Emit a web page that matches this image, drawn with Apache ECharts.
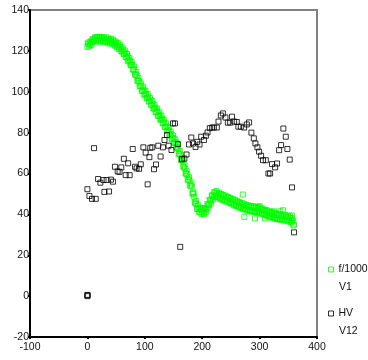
<!DOCTYPE html>
<html>
<head>
<meta charset="utf-8">
<script src="https://cdn.jsdelivr.net/npm/echarts@6/dist/echarts.min.js"></script>
<style>
html,body{margin:0;padding:0;background:#fff;}
#chart{width:368px;height:360px;}
</style>
</head>
<body>
<div id="chart"></div>
<script>
const seriesNames = ['f/1000', 'HV'];
const seriesSubLabels = ['V1', 'V12'];
const xTicks = [-100, 0, 100, 200, 300, 400];
const yTicks = [-20, 0, 20, 40, 60, 80, 100, 120, 140];

const greenPoints = [
[0,122.0],[2,123.4],[4,123.0],[6,124.6],[8,124.0],[10,125.3],[12,124.9],[14,126.2],[16,125.4],[18,126.5],
[20,125.6],[22,126.4],[24,125.2],[26,126.0],[28,124.9],[30,125.9],[32,124.8],[34,125.6],[36,124.5],[38,125.4],
[40,124.3],[42,125.0],[44,123.8],[46,124.5],[48,122.9],[50,123.6],[52,122.1],[54,122.9],[56,121.2],[58,121.9],
[60,120.0],[62,120.6],[64,118.6],[66,119.1],[68,116.9],[70,117.4],[72,115.2],[74,115.4],[76,113.1],[78,113.3],
[80,110.9],[82,111.0],[84,108.3],[86,108.1],[88,105.4],[90,105.2],[92,102.6],[94,102.9],[96,100.5],[98,100.9],
[100,98.7],[102,99.1],[104,97.0],[106,97.5],[108,95.4],[110,95.8],[112,93.6],[114,94.2],[116,91.8],[118,92.3],
[120,90.1],[122,90.5],[124,88.3],[126,88.6],[128,86.5],[130,86.9],[132,84.7],[134,85.1],[136,82.8],[138,83.1],
[140,80.8],[142,81.2],[144,78.8],[146,79.2],[148,77.0],[150,77.4],[152,75.1],[154,75.3],[156,72.7],[158,72.4],
[160,69.6],[162,69.3],[164,66.5],[166,66.2],[168,63.1],[170,62.6],[172,59.9],[174,59.6],[176,57.0],[178,56.5],
[180,54.0],[182,53.6],[184,50.0],[186,48.6],[188,45.4],[190,45.1],[192,42.7],[194,43.2],[196,41.4],[198,42.3],
[200,40.8],[202,41.9],[204,40.9],[206,42.6],[208,42.4],[210,44.6],[212,44.6],[214,46.9],[216,46.8],[218,49.0],
[220,48.6],[222,50.4],[224,49.3],[226,50.5],[228,48.7],[230,49.8],[232,48.0],[234,49.3],[236,47.5],[238,48.8],
[240,47.2],[242,48.3],[244,46.6],[246,47.9],[248,46.1],[250,47.4],[252,45.6],[254,46.8],[256,45.0],[258,46.2],
[260,44.5],[262,45.8],[264,44.0],[266,45.3],[268,43.6],[270,44.8],[272,43.0],[274,44.4],[276,42.7],[278,44.0],
[280,42.3],[282,43.6],[284,42.0],[286,43.5],[288,41.9],[290,43.3],[292,41.7],[294,43.1],[296,41.5],[298,42.9],
[300,41.3],[302,42.6],[304,40.8],[306,42.1],[308,40.4],[310,41.7],[312,39.9],[314,41.2],[316,39.5],[318,40.8],
[320,39.1],[322,40.4],[324,38.7],[326,40.0],[328,38.3],[330,39.7],[332,38.1],[334,39.5],[336,37.9],[338,39.3],
[340,37.8],[342,39.0],[344,37.6],[346,38.8],[348,37.3],[350,38.6],[352,37.0],[354,38.2],[356,36.5],[358,37.1],
[360,35.0],
[1,124.0],[3,122.2],[5,124.4],[7,122.8],[9,125.8],[11,124.9],[13,126.7],[15,124.5],[17,126.8],[19,125.0],
[21,126.9],[23,124.5],[25,126.8],[27,124.9],[29,126.5],[31,124.2],[33,126.6],[35,124.2],[37,126.1],[39,123.6],
[41,125.9],[43,123.5],[45,125.5],[47,122.6],[49,124.6],[51,121.8],[53,123.8],[55,120.9],[57,123.0],[59,119.7],
[61,121.6],[63,118.5],[65,120.2],[67,116.9],[69,118.5],[71,114.9],[73,116.5],[75,113.3],[77,114.6],[79,110.8],
[81,112.4],[83,108.5],[85,109.6],[87,105.4],[89,106.7],[91,102.7],[93,104.1],[95,100.4],[97,102.2],[99,98.5],
[101,100.3],[103,96.8],[105,98.8],[107,95.2],[109,97.0],[111,93.4],[113,95.4],[115,91.8],[117,93.4],[119,89.9],
[121,91.8],[123,88.2],[125,89.9],[127,86.3],[129,88.2],[131,84.6],[133,86.3],[135,82.7],[137,84.5],[139,80.8],
[141,82.4],[143,78.7],[145,80.5],[147,76.9],[149,78.6],[151,75.0],[153,76.7],[155,72.8],[157,73.9],[159,69.7],
[161,71.0],[163,66.7],[165,67.8],[167,63.4],[169,64.4],[171,60.0],[173,61.1],[175,56.9],[177,58.2],[179,54.1],
[181,55.2],[183,50.4],[185,50.7],[187,45.8],[189,46.6],[191,42.6],[193,44.4],[195,41.0],[197,43.2],[199,40.2],
[201,42.8],[203,40.2],[205,43.1],[207,41.2],[209,45.0],[211,43.4],[213,47.1],[215,45.5],[217,49.4],[219,47.6],
[221,50.9],[223,48.5],[225,51.4],[227,48.4],[229,50.6],[231,47.5],[233,50.0],[235,47.1],[237,49.5],[239,46.6],
[241,49.1],[243,46.2],[245,48.5],[247,45.6],[249,48.1],[251,45.2],[253,47.5],[255,44.5],[257,47.0],[259,44.1],
[261,46.5],[263,43.5],[265,46.0],[267,43.1],[269,45.5],[271,42.6],[273,45.2],[275,42.3],[277,44.7],[279,41.8],
[281,44.4],[283,41.6],[285,44.1],[287,41.3],[289,44.0],[291,41.2],[293,43.7],[295,40.9],[297,43.6],[299,40.8],
[301,43.3],[303,40.3],[305,42.8],[307,39.9],[309,42.3],[311,39.4],[313,42.0],[315,39.1],[317,41.5],[319,38.6],
[321,41.2],[323,38.3],[325,40.7],[327,37.8],[329,40.5],[331,37.7],[333,40.2],[335,37.4],[337,40.1],[339,37.3],
[341,39.8],[343,37.0],[345,39.7],[347,36.9],[349,39.3],[351,36.4],[353,39.0],[355,36.0],[357,38.1],[359,34.6],
[270.7,49.7],[273.5,38.8],[292,38.0],[309.5,38.0],[341,42.0],[336,41.5],[300,44.0],[325,41.5],[356,39.5]
];

const hvPoints = [
[0,52.3],[3.5,49],[8,47.6],[14.5,47.6],[11.6,72.4],[18.6,57.3],[22.6,55.5],[28,56.8],[33.6,56.8],[29.6,51],
[37.7,51.2],[41,57],[44.5,56],[48,63.3],[52.7,61],[56,60.8],[59,63],[63.5,67.2],[66.7,59.2],[71,65],
[73.6,59.2],[79,72],[83,63.3],[85.6,62.5],[90,62.3],[93,64.5],[97.5,72.8],[101.5,70.2],[105,54.7],[108,68],
[109.6,72.6],[113,72.8],[116,62.1],[119.5,64.4],[123.5,73.6],[127.5,68.3],[131.6,72.8],[134.3,76.4],[138.6,78.8],[141.5,73.6],
[146.5,71.5],[149,84.5],[152.5,84.5],[157.5,74.4],[161.7,24.1],[164.7,67],[169,67.3],[172.7,69.3],[177,74.2],[181,77.6],
[184,74.7],[188.4,73],[191.3,75.5],[195.3,74.2],[198.3,78],[203,76.4],[206.4,78.5],[209.3,80.1],[213.3,82.2],[217.4,82.5],
[220.3,82.5],[225.5,82.5],[228.4,85.4],[232.5,88.4],[236,89.4],[240.5,87.4],[244.7,84.9],[248.7,84.9],[252,87.8],[255.6,85.4],
[260.3,85.2],[263,82.9],[267.3,82.9],[273,82.5],[277.7,84],[281.7,85],[285.7,80],[289.9,77.2],[292.7,74.7],[296.2,72.8],
[299.1,70.7],[302.6,68.7],[306,66.5],[310.8,66.5],[315.4,60],[318.3,60],[321.7,64.6],[327,63],[330.4,64.9],[334,71.4],
[337.4,73.9],[341.4,82],[345.6,78],[348.4,72],[352.5,66.8],[356.5,53.2],[360,31.2],
[0,0],[0.4,0.4],[0,0.6]
];

const chart = echarts.init(document.getElementById('chart'), null, {renderer: 'canvas'});
const font = 'Liberation Sans, Arial, sans-serif';
const GREEN = '#00ff00';

chart.setOption({
  animation: false,
  backgroundColor: '#ffffff',
  grid: {
    left: 30, right: 51, top: 10, bottom: 23,
    show: true, borderColor: '#808080', borderWidth: 2, backgroundColor: 'transparent'
  },
  xAxis: {
    type: 'value',
    min: xTicks[0], max: xTicks[xTicks.length - 1], interval: 100,
    splitLine: {show: false},
    axisLine: {show: true, onZero: false, lineStyle: {color: '#000', width: 2}},
    axisTick: {show: true, length: 2, lineStyle: {color: '#000', width: 2}},
    axisLabel: {color: '#111', fontSize: 10.5, fontFamily: font, margin: 5}
  },
  yAxis: {
    type: 'value',
    min: yTicks[0], max: yTicks[yTicks.length - 1], interval: 20,
    splitLine: {show: false},
    axisLine: {show: true, onZero: false, lineStyle: {color: '#000', width: 2}},
    axisTick: {show: true, length: 2, lineStyle: {color: '#000', width: 2}},
    axisLabel: {color: '#111', fontSize: 10.5, fontFamily: font, margin: 1}
  },
  legend: {
    orient: 'vertical',
    left: 323,
    top: 259,
    padding: 5,
    itemWidth: 5,
    itemHeight: 5,
    itemGap: 33,
    icon: 'rect',
    textStyle: {color: '#111', fontSize: 10.5, fontFamily: font, overflow: 'none'},
    data: [
      {name: seriesNames[0], itemStyle: {color: '#fff', borderColor: GREEN, borderWidth: 1}},
      {name: seriesNames[1], itemStyle: {color: '#fff', borderColor: '#000', borderWidth: 1}}
    ]
  },
  graphic: [
    {type: 'text', left: 339, top: 282, style: {text: seriesSubLabels[0], fill: '#111', font: '10.5px ' + font}},
    {type: 'text', left: 339, top: 326, style: {text: seriesSubLabels[1], fill: '#111', font: '10.5px ' + font}}
  ],
  series: [
    {
      name: seriesNames[0], type: 'scatter', symbol: 'rect', symbolSize: 5,
      itemStyle: {color: 'rgba(255,255,255,0)', borderColor: GREEN, borderWidth: 1},
      data: greenPoints
    },
    {
      name: seriesNames[1], type: 'scatter', symbol: 'rect', symbolSize: 5,
      itemStyle: {color: 'rgba(255,255,255,0)', borderColor: '#000', borderWidth: 1},
      data: hvPoints
    }
  ]
});
</script>
</body>
</html>
